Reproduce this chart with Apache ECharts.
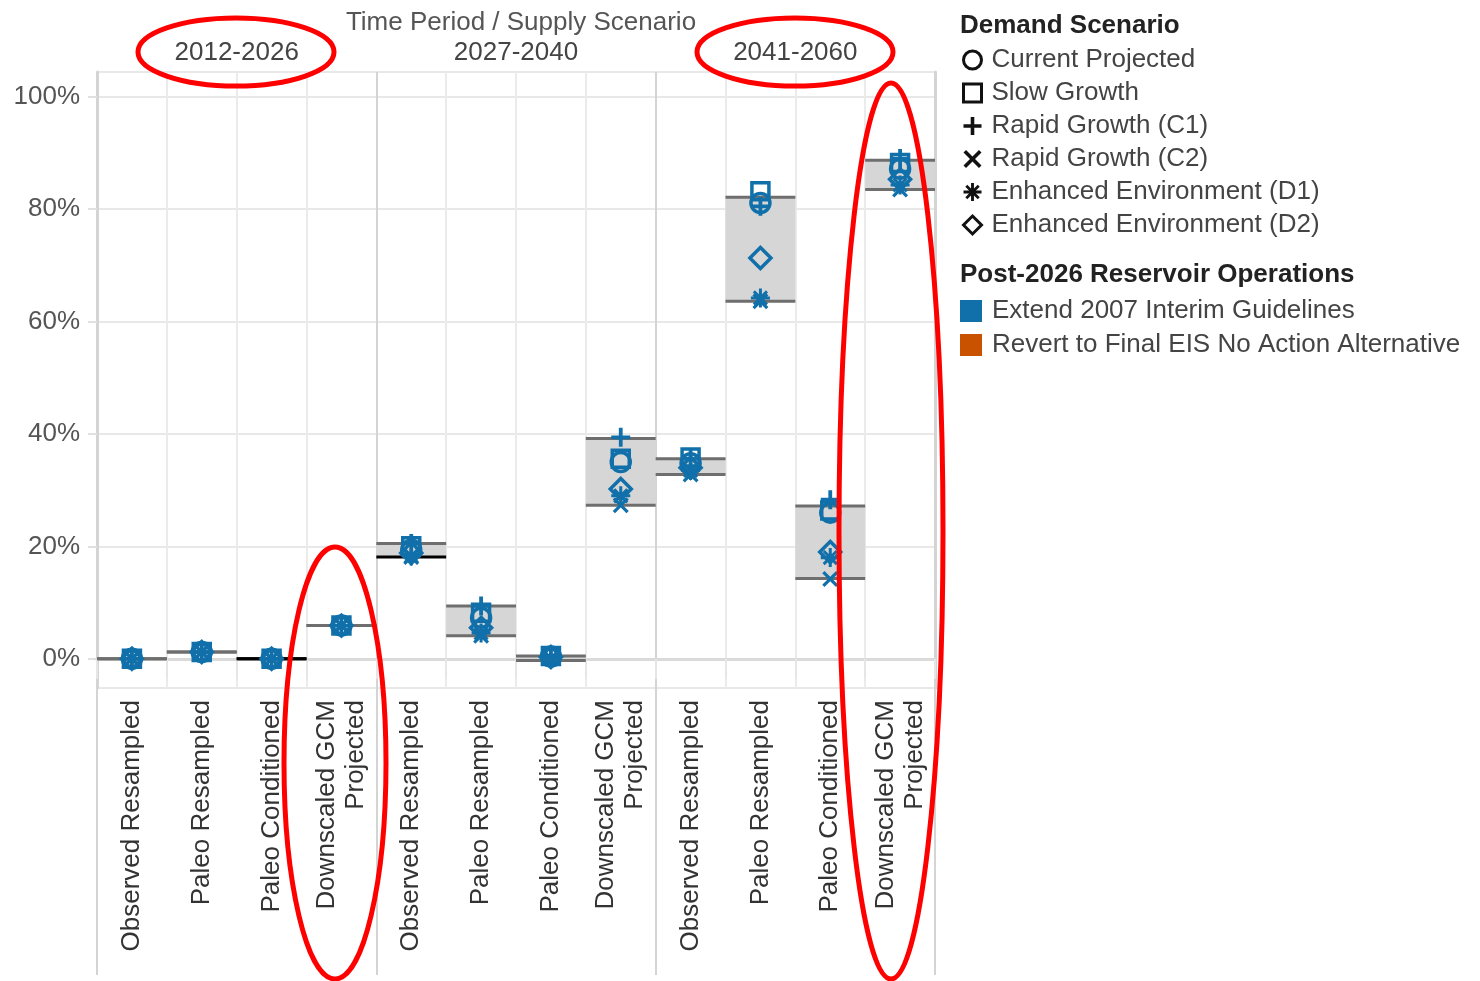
<!DOCTYPE html>
<html>
<head>
<meta charset="utf-8">
<title>Time Period / Supply Scenario</title>
<script src="https://cdn.jsdelivr.net/npm/echarts@6/dist/echarts.min.js"></script>
<style>
html, body { margin: 0; padding: 0; background: #fff; }
#main { width: 1480px; height: 981px; }
</style>
</head>
<body>
<div id="main"></div>
<script>
// ---- data (values in %) ----
var periods = ['2012-2026', '2027-2040', '2041-2060'];
var supplyScenarios = ['Observed Resampled', 'Paleo Resampled', 'Paleo Conditioned', 'Downscaled GCM\nProjected'];
var yTickValues = [0, 20, 40, 60, 80, 100];

var demandScenarios = ['Current Projected', 'Slow Growth', 'Rapid Growth (C1)', 'Rapid Growth (C2)', 'Enhanced Environment (D1)', 'Enhanced Environment (D2)'];
var opsScenarios = ['Extend 2007 Interim Guidelines', 'Revert to Final EIS No Action Alternative'];

// one value per column: 3 periods x 4 supply scenarios
var currentProjected = [0, 1.2, 0, 5.9, 19.4, 7.3, 0.4, 35.0, 34.8, 81.1, 26.0, 87.2];
var slowGrowth       = [0, 1.2, 0, 5.9, 20.0, 8.2, 0.5, 35.6, 35.8, 83.2, 26.4, 88.2];
var rapidGrowthC1    = [0, 1.2, 0, 5.9, 20.5, 9.4, 0.5, 39.4, 35.6, 80.5, 28.3, 89.0];
var rapidGrowthC2    = [0, 1.2, 0, 5.9, 18.1, 4.1, 0.0, 27.3, 32.8, 63.6, 14.2, 83.5];
var enhancedEnvD1    = [0, 1.2, 0, 5.9, 18.3, 4.6, 0.1, 29.0, 33.5, 64.2, 18.0, 84.3];
var enhancedEnvD2    = [0, 1.2, 0, 5.9, 18.8, 5.5, 0.3, 30.2, 34.0, 71.3, 19.0, 85.3];

// shaded range per column
var rangeLow  = [0, 1.2, 0, 5.9, 18.1, 4.1, -0.3, 27.3, 32.8, 63.6, 14.3, 83.5];
var rangeHigh = [0, 1.2, 0, 5.9, 20.5, 9.4,  0.5, 39.2, 35.6, 82.1, 27.2, 88.7];

// ---- styling ----
var blue = '#1170aa';
var orange = '#c85200';
var fontFamily = '"Liberation Sans", Arial, sans-serif';
var fs = 26;
var darkBounds = { 2: { lo: true, hi: true }, 4: { lo: true } };

var plusPath = 'path://M-1,-5H1V-1H5V1H1V5H-1V1H-5V-1H-1Z';
var crossPath = 'path://M-5,-3.6L-3.6,-5L0,-1.4L3.6,-5L5,-3.6L1.4,0L5,3.6L3.6,5L0,1.4L-3.6,5L-5,3.6L-1.4,0Z';
var starPath = 'path://M-0.8,-5H0.8V-0.8H5V0.8H0.8V5H-0.8V0.8H-5V-0.8H-0.8Z' +
    'M-4,-2.9L-2.9,-4L0,-1.1L2.9,-4L4,-2.9L1.1,0L4,2.9L2.9,4L0,1.1L-2.9,4L-4,2.9L-1.1,0Z';

var markers = [
    { values: currentProjected, symbol: 'circle', hollow: true, size: 19 },
    { values: slowGrowth, symbol: 'rect', hollow: true, size: 17 },
    { values: rapidGrowthC1, symbol: plusPath, hollow: false, size: 19 },
    { values: rapidGrowthC2, symbol: crossPath, hollow: false, size: 16 },
    { values: enhancedEnvD1, symbol: starPath, hollow: false, size: 19 },
    { values: enhancedEnvD2, symbol: 'diamond', hollow: true, size: 21 }
];

var columns = [];
periods.forEach(function (p) {
    supplyScenarios.forEach(function (s) { columns.push(s); });
});

var series = [];

series.push({
    type: 'custom',
    name: 'range',
    xAxisIndex: 0,
    yAxisIndex: 0,
    z: 1,
    silent: true,
    data: rangeLow.map(function (lo, i) { return [i, lo, rangeHigh[i]]; }),
    renderItem: function (params, api) {
        var i = api.value(0);
        var top = api.coord([i, api.value(2)]);
        var bot = api.coord([i, api.value(1)]);
        var w = api.size([1, 0])[0];
        var x0 = top[0] - w / 2;
        var dark = darkBounds[i] || {};
        return {
            type: 'group',
            children: [
                { type: 'rect', shape: { x: x0, y: top[1], width: w, height: bot[1] - top[1] }, style: { fill: '#d6d6d6' } },
                { type: 'line', shape: { x1: x0, y1: top[1], x2: x0 + w, y2: top[1] }, style: { stroke: dark.hi ? '#000' : '#6e6e6e', lineWidth: 3 } },
                { type: 'line', shape: { x1: x0, y1: bot[1], x2: x0 + w, y2: bot[1] }, style: { stroke: dark.lo ? '#000' : '#6e6e6e', lineWidth: 3 } }
            ]
        };
    }
});

markers.forEach(function (m, k) {
    series.push({
        type: 'scatter',
        name: demandScenarios[k],
        xAxisIndex: 0,
        yAxisIndex: 0,
        z: 3,
        symbol: m.symbol,
        symbolSize: m.size,
        itemStyle: m.hollow
            ? { color: 'rgba(255,255,255,0)', borderColor: blue, borderWidth: 3.5, opacity: 1 }
            : { color: blue, borderWidth: 0, opacity: 1 },
        data: m.values.map(function (v, i) { return [i, v]; })
    });
});

series.push({ type: 'scatter', name: opsScenarios[0], data: [], itemStyle: { color: blue, opacity: 1 } });
series.push({ type: 'scatter', name: opsScenarios[1], data: [], itemStyle: { color: orange, opacity: 1 } });

var legendIcons = markers.map(function (m, k) {
    return {
        name: demandScenarios[k],
        icon: m.symbol,
        itemStyle: m.hollow
            ? { color: '#fff', borderColor: '#111', borderWidth: 3, opacity: 1 }
            : { color: '#111', borderWidth: 0, opacity: 1 }
    };
});

var chart = echarts.init(document.getElementById('main'));
chart.setOption({
    backgroundColor: '#fff',
    animation: false,
    textStyle: { fontFamily: fontFamily },
    title: [
        { text: 'Time Period / Supply Scenario', left: 516, top: 5, textAlign: 'center',
          textStyle: { fontSize: fs, fontWeight: 'normal', color: '#555', fontFamily: fontFamily } },
        { text: 'Demand Scenario', left: 955, top: 8,
          textStyle: { fontSize: fs, fontWeight: 'bold', color: '#222', fontFamily: fontFamily } },
        { text: 'Post-2026 Reservoir Operations', left: 955, top: 257,
          textStyle: { fontSize: fs, fontWeight: 'bold', color: '#222', fontFamily: fontFamily } }
    ],
    legend: [
        {
            orient: 'vertical', left: 957, top: 42,
            itemWidth: 18, itemHeight: 18, itemGap: 7,
            selectedMode: false,
            textStyle: { fontSize: fs, color: '#444', padding: [0, 0, 0, 5], fontFamily: fontFamily },
            data: legendIcons
        },
        {
            orient: 'vertical', left: 955, top: 293,
            itemWidth: 22, itemHeight: 22, itemGap: 8,
            icon: 'rect',
            selectedMode: false,
            itemStyle: { opacity: 1 },
            textStyle: { fontSize: fs, color: '#444', padding: [0, 0, 0, 5], fontFamily: fontFamily },
            data: opsScenarios
        }
    ],
    grid: { left: 97, right: 545, top: 72, bottom: 293, containLabel: false },
    xAxis: [
        {
            type: 'category',
            position: 'bottom',
            data: columns,
            boundaryGap: true,
            axisLine: { show: true, lineStyle: { color: '#dadada', width: 3 } },
            axisTick: { show: true, interval: 0, length: 20, lineStyle: { color: '#e6e6e6', width: 2 } },
            axisLabel: {
                interval: 0, rotate: 90, margin: 12,
                fontSize: fs, color: '#333', lineHeight: 29, fontFamily: fontFamily
            },
            splitLine: { show: true, interval: 0, lineStyle: { color: '#ebebeb', width: 2 } }
        },
        {
            type: 'category',
            position: 'top',
            data: periods,
            boundaryGap: true,
            axisLine: { show: true, lineStyle: { color: '#dadada', width: 3 } },
            axisTick: { show: true, interval: 0, length: 32, lineStyle: { color: '#d4d4d4', width: 2 } },
            axisLabel: { interval: 0, margin: 6, fontSize: fs, color: '#444', fontFamily: fontFamily },
            splitLine: { show: true, interval: 0, lineStyle: { color: '#d4d4d4', width: 2 } }
        },
        {
            type: 'category',
            position: 'bottom',
            data: periods,
            boundaryGap: true,
            axisLine: { show: false },
            axisTick: { show: true, interval: 0, length: 287, lineStyle: { color: '#d4d4d4', width: 2 } },
            axisLabel: { show: false },
            splitLine: { show: false }
        }
    ],
    yAxis: [
        {
            type: 'value',
            min: -5.2,
            max: 104.4,
            splitNumber: 5,
            axisLine: { show: true, lineStyle: { color: '#d4d4d4', width: 3 } },
            axisTick: { show: true, length: 9, lineStyle: { color: '#e0e0e0', width: 2 } },
            axisLabel: {
                margin: 17, fontSize: fs, color: '#555', fontFamily: fontFamily,
                showMinLabel: false, showMaxLabel: false,
                formatter: function (v) { return yTickValues.indexOf(v) >= 0 ? v + '%' : ''; }
            },
            splitLine: { show: true, lineStyle: { color: '#e8e8e8', width: 2 } }
        },
        {
            type: 'value',
            position: 'right',
            min: -5.2,
            max: 104.4,
            axisLine: { show: true, lineStyle: { color: '#d4d4d4', width: 3 } },
            axisTick: { show: false },
            axisLabel: { show: false },
            splitLine: { show: false }
        }
    ],
    series: series,
    graphic: [
        { type: 'ellipse', shape: { cx: 236, cy: 52, rx: 98, ry: 34 }, style: { fill: 'none', stroke: '#ff0000', lineWidth: 5 }, z: 100 },
        { type: 'ellipse', shape: { cx: 795, cy: 52, rx: 98, ry: 34 }, style: { fill: 'none', stroke: '#ff0000', lineWidth: 5 }, z: 100 },
        { type: 'ellipse', shape: { cx: 335, cy: 763, rx: 51, ry: 216 }, style: { fill: 'none', stroke: '#ff0000', lineWidth: 5 }, z: 100 },
        { type: 'ellipse', shape: { cx: 891, cy: 531, rx: 52, ry: 448 }, style: { fill: 'none', stroke: '#ff0000', lineWidth: 5 }, z: 100 }
    ]
});
</script>
</body>
</html>
